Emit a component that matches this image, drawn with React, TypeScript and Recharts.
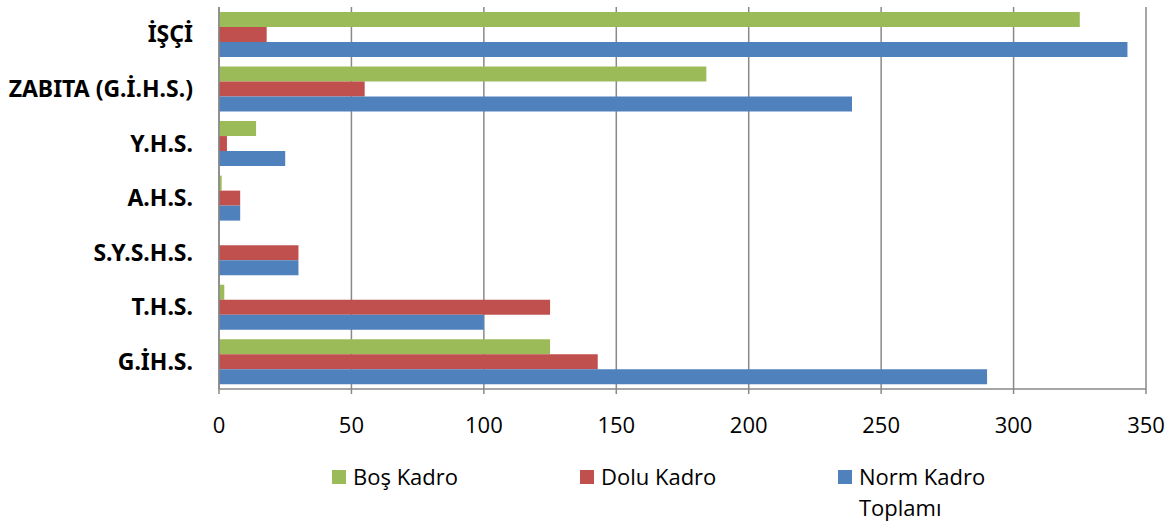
import React from "react";
import { BarChart, Bar, XAxis, YAxis, CartesianGrid, Legend } from "recharts";

const categories = ["İŞÇİ", "ZABITA (G.İ.H.S.)", "Y.H.S.", "A.H.S.", "S.Y.S.H.S.", "T.H.S.", "G.İH.S."];
const bosKadro = [325, 184, 14, 1, 0, 2, 125];
const doluKadro = [18, 55, 3, 8, 30, 125, 143];
const normKadro = [343, 239, 25, 8, 30, 100, 290];
const xTicks = [0, 50, 100, 150, 200, 250, 300, 350];

const seriesNames = ["Boş Kadro", "Dolu Kadro", "Norm Kadro Toplamı"];
const seriesColors = ["#9BBB59", "#C0504D", "#4F81BD"];

const data = categories.map((name, i) => ({
  name,
  bos: bosKadro[i],
  dolu: doluKadro[i],
  norm: normKadro[i],
}));

const FONT = "'Open Sans', sans-serif";
const YFONT = "'Noto Sans', 'Open Sans', sans-serif";

const LegendContent = () => (
  <div
    style={{
      display: "flex",
      paddingLeft: 332,
      fontFamily: FONT,
      fontSize: 22,
      lineHeight: "31px",
      color: "#000",
      height: 64,
    }}
  >
    {seriesNames.map((n, i) => (
      <div
        key={n}
        style={{ display: "flex", alignItems: "flex-start", width: i === 0 ? 248 : i === 1 ? 258 : 200 }}
      >
        <div style={{ width: 14, height: 14, background: seriesColors[i], marginTop: 8.5, marginRight: 7, flex: "none" }} />
        <div style={{ maxWidth: i === 2 ? 140 : 220 }}>{n}</div>
      </div>
    ))}
  </div>
);

export default function App() {
  return (
    <div style={{ position: "absolute", left: 0, top: 0, width: 1176, height: 525, background: "#fff" }}>
      <BarChart
        width={1176}
        height={525}
        data={data}
        layout="vertical"
        margin={{ top: 7, right: 30, left: 0, bottom: 0 }}
        barCategoryGap="9%"
        barGap={0}
      >
        <CartesianGrid horizontal={false} stroke="#898989" strokeWidth={1.5} />
        <XAxis
          type="number"
          domain={[0, 350]}
          ticks={xTicks}
          interval={0}
          height={72}
          axisLine={{ stroke: "#898989", strokeWidth: 1.5 }}
          tickLine={{ stroke: "#898989", strokeWidth: 1.5 }}
          tickSize={5}
          tickMargin={23}
          tick={{ fontFamily: FONT, fontSize: 22, fill: "#000" }}
        />
        <YAxis
          type="category"
          dataKey="name"
          width={219}
          interval={0}
          axisLine={{ stroke: "#898989", strokeWidth: 1.5 }}
          tickLine={false}
          tickSize={0}
          tickMargin={26}
          tick={{ fontFamily: YFONT, fontSize: 23, fontWeight: 700, fill: "#000" }}
        />
        <Legend
          content={<LegendContent />}
          wrapperStyle={{ top: 461, left: 0, width: 1176, height: 64 }}
        />
        <Bar dataKey="bos" name={seriesNames[0]} fill={seriesColors[0]} isAnimationActive={false} />
        <Bar dataKey="dolu" name={seriesNames[1]} fill={seriesColors[1]} isAnimationActive={false} />
        <Bar dataKey="norm" name={seriesNames[2]} fill={seriesColors[2]} isAnimationActive={false} />
      </BarChart>
    </div>
  );
}
